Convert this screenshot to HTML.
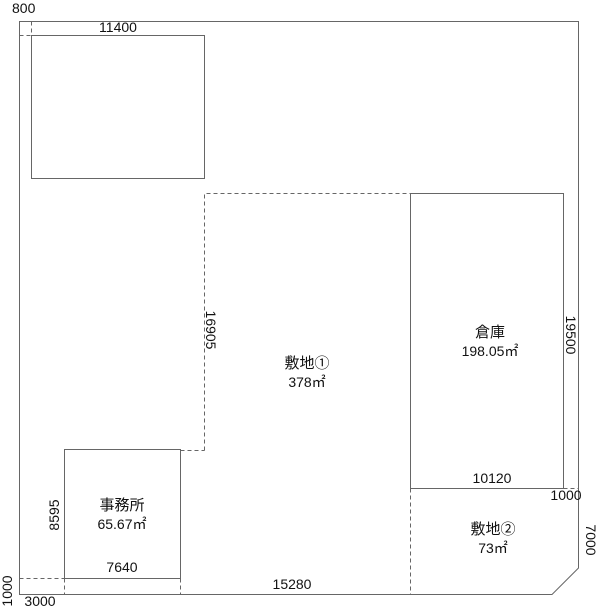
<!DOCTYPE html>
<html><head><meta charset="utf-8"><style>
html,body{margin:0;padding:0;background:#fff;}
svg text{font-family:"Liberation Sans","Noto Sans CJK JP",sans-serif;font-size:14px;fill:#111;}
svg text.j{font-size:15px;}
</style></head><body>
<svg width="600" height="609" viewBox="0 0 600 609" xmlns="http://www.w3.org/2000/svg">
<g fill="none" stroke="#666" stroke-width="1">
<path d="M19.5 21.5 H578.5 V568 L552 594.5 H19.5 Z"/>
<rect x="31.5" y="35.5" width="173" height="143"/>
<rect x="410.5" y="193.5" width="153" height="295"/>
<rect x="64.5" y="449.5" width="116" height="129"/>
<line x1="410.5" y1="488.5" x2="563.5" y2="488.5"/>
</g>
<g fill="none" stroke="#666" stroke-width="1" stroke-dasharray="4,3">
<path d="M204.5 450.5 V193.5 H410.5"/>
<line x1="180.5" y1="450.5" x2="204.5" y2="450.5"/>
<line x1="563.5" y1="488.5" x2="578.5" y2="488.5"/>
<line x1="410.5" y1="488.5" x2="410.5" y2="594.5"/>
<line x1="19.5" y1="578.5" x2="64.5" y2="578.5"/>
<line x1="64.5" y1="578.5" x2="64.5" y2="594.5"/>
<line x1="180.5" y1="578.5" x2="180.5" y2="594.5"/>
<line x1="31.5" y1="21.5" x2="31.5" y2="35.5"/>
<line x1="19.5" y1="35.5" x2="31.5" y2="35.5"/>
</g>
<text x="12" y="13">800</text>
<text x="118" y="32" text-anchor="middle">11400</text>
<text x="210" y="330" text-anchor="middle" transform="rotate(90 210 330)" dy="4">16905</text>
<text class="j" x="307" y="368" text-anchor="middle">敷地①</text>
<text x="307" y="387" text-anchor="middle">378㎡</text>
<text class="j" x="490" y="337" text-anchor="middle">倉庫</text>
<text x="490" y="356" text-anchor="middle">198.05㎡</text>
<text x="570" y="335" text-anchor="middle" transform="rotate(90 570 335)" dy="4">19500</text>
<text x="492" y="483" text-anchor="middle">10120</text>
<text x="566" y="500" text-anchor="middle">1000</text>
<text x="590" y="540" text-anchor="middle" transform="rotate(90 590 540)" dy="4">7000</text>
<text class="j" x="493" y="534" text-anchor="middle">敷地②</text>
<text x="493" y="553" text-anchor="middle">73㎡</text>
<text class="j" x="122" y="510" text-anchor="middle">事務所</text>
<text x="122" y="529" text-anchor="middle">65.67㎡</text>
<text x="55" y="515" text-anchor="middle" transform="rotate(-90 55 515)" dy="4">8595</text>
<text x="122" y="572" text-anchor="middle">7640</text>
<text x="292" y="589" text-anchor="middle">15280</text>
<text x="8" y="591" text-anchor="middle" transform="rotate(-90 8 591)" dy="4">1000</text>
<text x="40" y="606" text-anchor="middle">3000</text>
</svg>
</body></html>
